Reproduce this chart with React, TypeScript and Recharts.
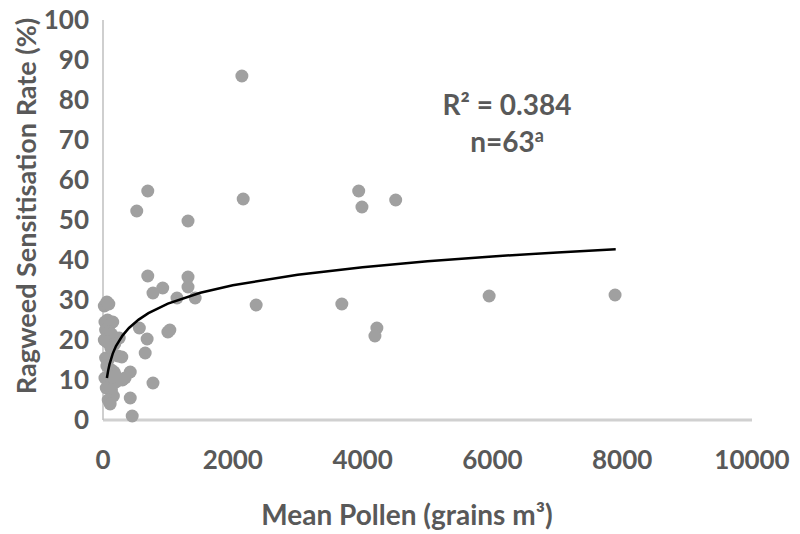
import React from 'react';
import { ComposedChart, Scatter, XAxis, YAxis, Label } from 'recharts';

// mean pollen (grains/m3) per site
const pollen = [
  2140, 2160, 690, 520, 1310, 3940, 3990, 4510,
  690, 770, 920, 1310, 1310, 1140, 1420, 2360, 3680, 4220, 4190, 5950, 7890,
  20, 60, 90, 30, 70, 110, 150, 40, 90, 130, 20, 60, 250, 180, 290, 40, 80, 60,
  130, 170, 420, 30, 90, 200, 300, 340, 50, 130, 160, 80, 110, 420, 450,
  560, 680, 650, 770, 1000, 1030, 230, 120, 200,
];

// ragweed sensitisation rate (%)
const rate = [
  86, 55.25, 57.25, 52.25, 49.75, 57.25, 53.25, 55,
  36, 31.75, 33, 35.75, 33.25, 30.5, 30.5, 28.75, 29, 23, 21, 31, 31.25,
  28.5, 29.5, 29, 24.5, 25, 24, 24.5, 22.5, 22, 21.5, 20, 19.5, 20.5, 19, 15.75, 15.5, 15, 13.5,
  12.5, 12, 12, 10.5, 10, 9.5, 10, 10.5, 8, 7.5, 6, 5, 4, 5.5, 1,
  23, 20.25, 16.75, 9.25, 22, 22.5, 16, 18, 11,
];

// log trend line
const trendX = [60, 80, 100, 150, 200, 300, 400, 550, 700, 1000, 1500, 2000, 3000, 4000, 5000, 6000, 7000, 7900];
const trendY = [10.5, 12.4, 13.9, 16.6, 18.5, 21.1, 23, 25.1, 26.7, 29.1, 31.8, 33.7, 36.3, 38.2, 39.7, 40.9, 41.9, 42.7];

const xTicks = [0, 2000, 4000, 6000, 8000, 10000];
const yTicks = [0, 10, 20, 30, 40, 50, 60, 70, 80, 90, 100];

const points = pollen.map((x, i) => ({ x, y: rate[i] }));
const trend = trendX.map((x, i) => ({ x, y: trendY[i] }));

const FONT = 'Lato, "Open Sans", sans-serif';
const GREY = '#595959';

const Dot = (p: any) => <circle cx={p.cx} cy={p.cy} r={6.5} fill="#a0a0a0" />;
const NoDot = () => <g />;

export default function App() {
  // shifted up over the body margin so the top tick label has room
  return (
    <div style={{ position: 'relative', marginTop: -8, width: 784, height: 534, fontFamily: FONT }}>
      <ComposedChart width={784} height={534} margin={{ top: 20, right: 40, bottom: 0, left: 0 }}>
        <XAxis
          type="number"
          dataKey="x"
          domain={[0, 10000]}
          ticks={xTicks}
          tickLine={false}
          tickMargin={25}
          axisLine={{ stroke: '#d0d0d0', strokeWidth: 3 }}
          tick={{ fill: GREY, fontSize: 26, fontWeight: 700, fontFamily: FONT }}
          height={114}
        >
          <Label
            content={() => (
              <text x={399} y={514} textAnchor="middle" dominantBaseline="central"
                fill={GREY} fontSize={28} fontWeight={700} fontFamily={FONT}>
                Mean Pollen (grains m³)
              </text>
            )}
          />
        </XAxis>
        <YAxis
          type="number"
          dataKey="y"
          domain={[0, 100]}
          ticks={yTicks}
          tickLine={false}
          tickMargin={8}
          axisLine={{ stroke: '#bfbfbf', strokeWidth: 1.5 }}
          tick={{ fill: GREY, fontSize: 26, fontWeight: 700, fontFamily: FONT }}
          width={95}
        >
          <Label
            content={() => (
              <text x={17} y={206} transform="rotate(-90 17 206)" textAnchor="middle"
                dominantBaseline="central" fill={GREY} fontSize={27} fontWeight={700} fontFamily={FONT}>
                Ragweed Sensitisation Rate (%)
              </text>
            )}
          />
        </YAxis>
        <Scatter data={points} dataKey="y" shape={Dot} isAnimationActive={false} />
        <Scatter data={trend} dataKey="y" shape={NoDot} line={{ stroke: '#000', strokeWidth: 2.5 }}
          lineType="joint" isAnimationActive={false} />
      </ComposedChart>
      <div style={{
        position: 'absolute', left: 372, top: 86, width: 254, textAlign: 'center',
        color: GREY, fontSize: 28, fontWeight: 700, lineHeight: '37px',
      }}>
        <div>R² = 0.384</div>
        <div>n=63<sup style={{ fontSize: 18, lineHeight: 0 }}>a</sup></div>
      </div>
    </div>
  );
}
